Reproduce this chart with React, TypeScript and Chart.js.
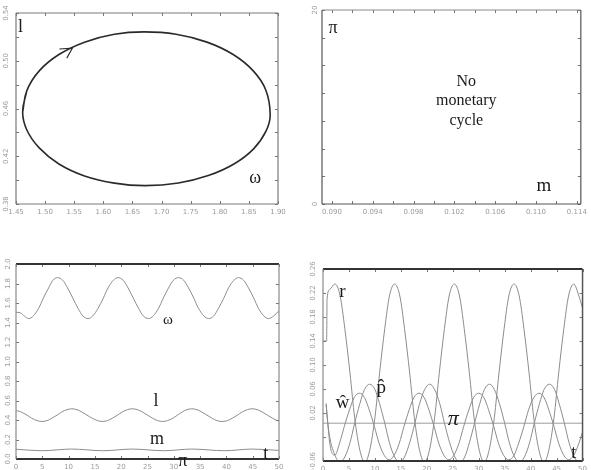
import React, { useEffect, useRef } from "react";
import { Chart, registerables } from "chart.js";
Chart.register(...registerables);

// ---------------- Panel 1: limit cycle in the (omega, l) plane ----------------
const cycleOmega = [1.4614, 1.4686, 1.4899, 1.5237, 1.5677, 1.619, 1.67, 1.725, 1.778, 1.823, 1.8575, 1.879, 1.8866, 1.8794, 1.8581, 1.8243, 1.7803, 1.729, 1.672, 1.619, 1.5677, 1.5237, 1.4899, 1.4686];
const cycleL = [0.457, 0.475, 0.4915, 0.5052, 0.5156, 0.5222, 0.5242, 0.5222, 0.5156, 0.5052, 0.4915, 0.4755, 0.4545, 0.441, 0.4262, 0.4135, 0.4038, 0.3976, 0.3954, 0.3975, 0.4035, 0.4135, 0.427, 0.442];
const arrowOmega = [1.5245, 1.5469, 1.5372];
const arrowL = [0.5098, 0.5106, 0.5022];

// ---------------- Panel 2: axis ticks only ----------------
const p2XTicks = [0.09, 0.092, 0.094, 0.096, 0.098, 0.1, 0.102, 0.104, 0.106, 0.108, 0.11, 0.112, 0.114];
const p2XLabelled = [0.09, 0.094, 0.098, 0.102, 0.106, 0.11, 0.114];

// ---------------- Panel 3: time series omega, l, m, pi ----------------
const omegaT = [0, 0.8, 1.6, 2.4, 3.3, 4.3, 5.2, 6.2, 7.0, 7.9, 8.9, 9.8, 10.8, 11.8, 12.7, 13.7, 14.6, 15.6, 16.6, 17.5, 18.5, 19.4, 20.4, 21.3, 22.3, 23.3, 24.2, 25.2, 26.1, 27.1, 28.0, 29.0, 29.9, 30.9, 31.9, 32.8, 33.8, 34.7, 35.7, 36.6, 37.6, 38.5, 39.5, 40.4, 41.4, 42.3, 43.3, 44.2, 45.2, 46.1, 47.1, 48.0, 49.0, 50];
const omegaV = [1.505, 1.5, 1.465, 1.44, 1.468, 1.545, 1.65, 1.755, 1.832, 1.86, 1.832, 1.755, 1.65, 1.545, 1.468, 1.44, 1.468, 1.545, 1.65, 1.755, 1.832, 1.86, 1.832, 1.755, 1.65, 1.545, 1.468, 1.44, 1.468, 1.545, 1.65, 1.755, 1.832, 1.86, 1.832, 1.755, 1.65, 1.545, 1.468, 1.44, 1.468, 1.545, 1.65, 1.755, 1.832, 1.86, 1.832, 1.755, 1.65, 1.545, 1.468, 1.44, 1.468, 1.52];
const lT = [0, 0.6, 1.2, 2.1, 3.0, 4.0, 4.9, 5.9, 6.8, 7.8, 8.7, 9.7, 10.6, 11.6, 12.5, 13.5, 14.5, 15.5, 16.4, 17.4, 18.3, 19.3, 20.2, 21.2, 22.1, 23.1, 24.0, 25.0, 26.0, 26.9, 27.9, 28.8, 29.8, 30.7, 31.6, 32.5, 33.4, 34.4, 35.3, 36.3, 37.3, 38.2, 39.2, 40.2, 41.1, 42.1, 43.0, 44.0, 44.9, 45.9, 46.8, 47.8, 48.8, 49.7, 50];
const lV = [0.495, 0.49, 0.477, 0.45, 0.4175, 0.394, 0.385, 0.394, 0.4175, 0.45, 0.4825, 0.506, 0.515, 0.506, 0.4825, 0.45, 0.4175, 0.394, 0.385, 0.394, 0.4175, 0.45, 0.4825, 0.506, 0.515, 0.506, 0.4825, 0.45, 0.4175, 0.394, 0.385, 0.394, 0.4175, 0.45, 0.4825, 0.506, 0.515, 0.506, 0.4825, 0.45, 0.4175, 0.394, 0.385, 0.394, 0.4175, 0.45, 0.4825, 0.506, 0.515, 0.506, 0.4825, 0.45, 0.4175, 0.394, 0.39];
const mT = [0, 4.9, 10.6, 16.5, 22.1, 28.1, 33.4, 39.7, 44.9, 50];
const mV = [0.1, 0.085, 0.102, 0.085, 0.102, 0.085, 0.102, 0.085, 0.102, 0.088];
const piLeftT = [0, 50];
const piLeftV = [0.004, 0.004];

// ---------------- Panel 4: time series r, w-hat, p-hat, pi ----------------
const rT = [0, 0.7, 0.78, 1.3, 2.3, 3.3, 4.2, 5.2, 6.1, 7.1, 8.05, 9.0, 10.0, 10.9, 11.9, 12.8, 13.8, 14.8, 15.7, 16.7, 17.6, 18.6, 19.55, 20.5, 21.5, 22.4, 23.4, 24.3, 25.3, 26.3, 27.2, 28.2, 29.1, 30.1, 31.05, 32.0, 33.0, 33.9, 34.9, 35.8, 36.8, 37.8, 38.7, 39.7, 40.6, 41.6, 42.55, 43.5, 44.5, 45.4, 46.4, 47.3, 48.3, 49.3, 50];
const rV = [0.14, 0.14, 0.21, 0.226, 0.235, 0.215, 0.161, 0.0865, 0.012, -0.042, -0.062, -0.042, 0.012, 0.0865, 0.161, 0.215, 0.235, 0.215, 0.161, 0.0865, 0.012, -0.042, -0.062, -0.042, 0.012, 0.0865, 0.161, 0.215, 0.235, 0.215, 0.161, 0.0865, 0.012, -0.042, -0.062, -0.042, 0.012, 0.0865, 0.161, 0.215, 0.235, 0.215, 0.161, 0.0865, 0.012, -0.042, -0.062, -0.042, 0.012, 0.0865, 0.161, 0.215, 0.235, 0.215, 0.195];
const wT = [0.6, 0.9, 1.3, 1.8, 2.3, 3.2, 4.1, 5.1, 6.0, 7.0, 8.0, 8.9, 9.9, 10.8, 11.8, 12.75, 13.7, 14.7, 15.6, 16.6, 17.5, 18.5, 19.5, 20.4, 21.4, 22.3, 23.3, 24.25, 25.2, 26.2, 27.1, 28.1, 29.0, 30.0, 31.0, 31.9, 32.9, 33.8, 34.8, 35.8, 36.8, 37.7, 38.7, 39.6, 40.6, 41.6, 42.6, 43.5, 44.5, 45.4, 46.4, 47.35, 48.3, 49.3, 50];
const wV = [0.036, 0.005, -0.03, -0.048, -0.05, -0.03, -0.0025, 0.0253, 0.0456, 0.053, 0.0456, 0.0253, -0.0025, -0.0303, -0.0506, -0.058, -0.0506, -0.0303, -0.0025, 0.0253, 0.0456, 0.053, 0.0456, 0.0253, -0.0025, -0.0303, -0.0506, -0.058, -0.0506, -0.0303, -0.0025, 0.0253, 0.0456, 0.053, 0.0456, 0.0253, -0.0025, -0.0303, -0.0506, -0.058, -0.0506, -0.0303, -0.0025, 0.0253, 0.0456, 0.053, 0.0456, 0.0253, -0.0025, -0.0303, -0.0506, -0.058, -0.0506, -0.0303, -0.012];
const pT = [0.6, 0.9, 1.4, 2.2, 3.2, 4.2, 5.2, 6.1, 7.1, 8.0, 9.0, 10.0, 10.9, 11.9, 12.8, 13.8, 14.8, 15.7, 16.7, 17.7, 18.6, 19.6, 20.55, 21.5, 22.5, 23.4, 24.4, 25.4, 26.3, 27.3, 28.2, 29.2, 30.2, 31.1, 32.1, 33.0, 34.0, 35.0, 35.9, 36.9, 37.85, 38.8, 39.8, 40.7, 41.7, 42.6, 43.6, 44.6, 45.5, 46.5, 47.4, 48.4, 49.4, 50];
const pV = [0.034, 0.005, -0.025, -0.048, -0.062, -0.0533, -0.0295, 0.003, 0.0355, 0.0593, 0.068, 0.0593, 0.0355, 0.003, -0.0295, -0.0533, -0.062, -0.0533, -0.0295, 0.003, 0.0355, 0.0593, 0.068, 0.0593, 0.0355, 0.003, -0.0295, -0.0533, -0.062, -0.0533, -0.0295, 0.003, 0.0355, 0.0593, 0.068, 0.0593, 0.0355, 0.003, -0.0295, -0.0533, -0.062, -0.0533, -0.0295, 0.003, 0.0355, 0.0593, 0.068, 0.0593, 0.0355, 0.003, -0.0295, -0.0533, -0.062, -0.058];
const piRightT = [0, 50];
const piRightV = [0.003, 0.003];

// ---------------- helpers ----------------
const pts = (xs: number[], ys: number[]) => xs.map((x, i) => ({ x, y: ys[i] }));
const TICK_FONT = { family: "'DejaVu Sans', sans-serif", size: 7 };
const TICK_COLOR = "#9a9a9a";

type Lbl = { text: string; x: number; y: number; size: number; italic?: boolean };
type Side = { w: number; c: string };
type Frame = { top: Side; bottom: Side; left: Side; right: Side; tick: number };

function framePlugin(f: Frame) {
  return {
    id: "frame",
    afterDatasetsDraw(chart: any) {
      const { ctx, chartArea: a, scales } = chart;
      const xs = scales.x, ys = scales.y;
      ctx.save();
      ctx.strokeStyle = "#777";
      ctx.lineWidth = 1;
      ctx.beginPath();
      for (const t of xs.ticks) {
        const p = Math.round(xs.getPixelForValue(t.value)) + 0.5;
        ctx.moveTo(p, a.bottom); ctx.lineTo(p, a.bottom - f.tick);
        ctx.moveTo(p, a.top); ctx.lineTo(p, a.top + f.tick);
      }
      for (const t of ys.ticks) {
        const p = Math.round(ys.getPixelForValue(t.value)) + 0.5;
        ctx.moveTo(a.left, p); ctx.lineTo(a.left + f.tick, p);
        ctx.moveTo(a.right, p); ctx.lineTo(a.right - f.tick, p);
      }
      ctx.stroke();
      const line = (s: Side, x1: number, y1: number, x2: number, y2: number) => {
        ctx.beginPath(); ctx.strokeStyle = s.c; ctx.lineWidth = s.w;
        ctx.moveTo(x1, y1); ctx.lineTo(x2, y2); ctx.stroke();
      };
      line(f.top, a.left, a.top, a.right, a.top);
      line(f.bottom, a.left, a.bottom, a.right, a.bottom);
      line(f.left, a.left, a.top, a.left, a.bottom);
      line(f.right, a.right, a.top, a.right, a.bottom);
      ctx.restore();
    },
  };
}

function textPlugin(labels: Lbl[]) {
  return {
    id: "texts",
    afterDraw(chart: any) {
      const { ctx, scales } = chart;
      ctx.save();
      ctx.fillStyle = "#1a1a1a";
      ctx.textAlign = "center";
      ctx.textBaseline = "middle";
      for (const l of labels) {
        ctx.font = `${l.italic ? "italic " : ""}${l.size}px 'Liberation Serif', 'DejaVu Serif', serif`;
        ctx.fillText(l.text, scales.x.getPixelForValue(l.x), scales.y.getPixelForValue(l.y));
      }
      ctx.restore();
    },
  };
}

type Spec = {
  left: number; top: number; w: number; h: number;
  area: { left: number; top: number; right: number; bottom: number };
  datasets: any[];
  x: any; y: any;
  frame: Frame;
  labels: Lbl[];
  yPad: number;
};

function buildConfig(s: Spec): any {
  return {
    type: "line",
    data: { datasets: s.datasets },
    options: {
      responsive: false,
      animation: false,
      events: [],
      layout: { padding: { left: 0, top: s.area.top, right: s.w - s.area.right, bottom: 0 } },
      plugins: { legend: { display: false }, tooltip: { enabled: false } },
      elements: { point: { radius: 0 } },
      scales: {
        x: {
          type: "linear",
          ...s.x.range,
          afterFit: (sc: any) => { sc.height = s.h - s.area.bottom; },
          grid: { display: false, drawTicks: false },
          border: { display: false },
          ticks: {
            ...s.x.ticks,
            autoSkip: false, minRotation: 0, maxRotation: 0,
            padding: 4, font: TICK_FONT, color: TICK_COLOR,
          },
        },
        y: {
          type: "linear",
          ...s.y.range,
          afterFit: (sc: any) => { sc.width = s.area.left; },
          grid: { display: false, drawTicks: false },
          border: { display: false },
          ticks: {
            ...s.y.ticks,
            autoSkip: false, minRotation: 90, maxRotation: 90, crossAlign: "center",
            padding: s.yPad, font: TICK_FONT, color: TICK_COLOR,
          },
        },
      },
    },
    plugins: [framePlugin(s.frame), textPlugin(s.labels)],
  };
}

function Panel({ spec }: { spec: Spec }) {
  const ref = useRef<HTMLCanvasElement>(null);
  useEffect(() => {
    const chart = new Chart(ref.current as HTMLCanvasElement, buildConfig(spec));
    return () => chart.destroy();
  }, []);
  return (
    <div style={{ position: "absolute", left: spec.left, top: spec.top, width: spec.w, height: spec.h }}>
      <canvas ref={ref} width={spec.w} height={spec.h} style={{ width: spec.w, height: spec.h, display: "block" }} />
    </div>
  );
}

const grayLine = (data: any[], color = "#8c8c8c") => ({
  data, borderColor: color, borderWidth: 1, pointRadius: 0, fill: false, cubicInterpolationMode: "monotone",
});

const every = (step: number, base: number, digits: number) => (v: number) =>
  Math.round((v - base) / step) % 2 === 0 ? v.toFixed(digits) : "";

const thin = (c = "#7a7a7a", w = 1.2): Side => ({ w, c });

const panel1: Spec = {
  left: 0, top: 0, w: 295, h: 225,
  area: { left: 16, top: 13, right: 278, bottom: 204 },
  datasets: [
    {
      data: pts([...cycleOmega, cycleOmega[0], cycleOmega[1]], [...cycleL, cycleL[0], cycleL[1]]),
      borderColor: "#2a2a2a", borderWidth: 1.6, pointRadius: 0, tension: 0.4, fill: false,
    },
    { data: pts(arrowOmega, arrowL), borderColor: "#2a2a2a", borderWidth: 1.1, pointRadius: 0, tension: 0, fill: false },
  ],
  x: { range: { min: 1.45, max: 1.9 }, ticks: { stepSize: 0.05, callback: (v: number) => v.toFixed(2) } },
  y: { range: { min: 0.38, max: 0.54 }, ticks: { stepSize: 0.02, callback: every(0.02, 0.38, 2) } },
  frame: { top: thin(), bottom: thin(), left: thin(), right: thin(), tick: 3 },
  labels: [
    { text: "l", x: 1.4577, y: 0.5277, size: 18 },
    { text: "ω", x: 1.861, y: 0.4017, size: 18 },
  ],
  yPad: 2,
};

const panel2: Spec = {
  left: 295, top: 0, w: 296, h: 225,
  area: { left: 27, top: 10, right: 287, bottom: 204 },
  datasets: [],
  x: {
    range: {
      min: 0.08903, max: 0.11439,
      afterBuildTicks: (sc: any) => { sc.ticks = p2XTicks.map((value) => ({ value })); },
    },
    ticks: { callback: (v: number) => (p2XLabelled.some((t) => Math.abs(t - v) < 1e-7) ? v.toFixed(3) : "") },
  },
  y: { range: { min: 0, max: 20 }, ticks: { count: 8, callback: (v: number) => (v === 0 || v === 20 ? String(v) : "") } },
  frame: { top: thin("#8a8a8a"), bottom: thin("#555"), left: thin("#555"), right: thin("#555"), tick: 3 },
  labels: [
    { text: "π", x: 0.0901, y: 18.1, size: 18 },
    { text: "m", x: 0.11078, y: 1.9, size: 19 },
    { text: "No", x: 0.10317, y: 12.6, size: 16 },
    { text: "monetary", x: 0.10317, y: 10.6, size: 16 },
    { text: "cycle", x: 0.10317, y: 8.6, size: 16 },
  ],
  yPad: 2,
};

const panel3: Spec = {
  left: 0, top: 235, w: 295, h: 235,
  area: { left: 16, top: 29, right: 279, bottom: 224 },
  datasets: [
    grayLine(pts(omegaT, omegaV)),
    grayLine(pts(lT, lV)),
    grayLine(pts(mT, mV)),
    grayLine(pts(piLeftT, piLeftV)),
  ],
  x: { range: { min: 0, max: 50 }, ticks: { stepSize: 5, callback: (v: number) => String(v) } },
  y: { range: { min: 0, max: 2 }, ticks: { stepSize: 0.2, callback: (v: number) => v.toFixed(1) } },
  frame: { top: thin("#333", 2), bottom: thin("#333", 2), left: thin("#8a8a8a"), right: thin("#8a8a8a"), tick: 3 },
  labels: [
    { text: "ω", x: 28.9, y: 1.43, size: 15 },
    { text: "l", x: 26.6, y: 0.59, size: 18 },
    { text: "m", x: 26.8, y: 0.2, size: 18 },
    { text: "π", x: 31.7, y: -0.02, size: 18 },
    { text: "t", x: 47.5, y: 0.05, size: 18 },
  ],
  yPad: 2,
};

const panel4: Spec = {
  left: 295, top: 235, w: 296, h: 235,
  area: { left: 28, top: 34, right: 290, bottom: 226 },
  datasets: [
    grayLine(pts(rT, rV)),
    grayLine(pts(wT, wV)),
    grayLine(pts(pT, pV)),
    grayLine(pts(piRightT, piRightV), "#9c9c9c"),
  ],
  x: { range: { min: 0, max: 50 }, ticks: { stepSize: 5, callback: (v: number) => String(v) } },
  y: {
    range: { min: -0.06, max: 0.26 },
    ticks: { stepSize: 0.04, callback: (v: number) => (Math.abs(v + 0.02) < 1e-6 ? "" : v.toFixed(2)) },
  },
  frame: { top: thin("#333", 2), bottom: thin("#333", 2), left: thin("#8a8a8a"), right: thin("#555", 1.5), tick: 3 },
  labels: [
    { text: "r", x: 3.76, y: 0.222, size: 19 },
    { text: "ŵ", x: 3.76, y: 0.036, size: 19 },
    { text: "p\u0302", x: 11.2, y: 0.062, size: 19 },
    { text: "π", x: 25.07, y: 0.009, size: 22, italic: true },
    { text: "t", x: 48.3, y: -0.047, size: 18 },
  ],
  yPad: 1,
};

export default function App() {
  return (
    <div style={{ position: "absolute", left: 0, top: 0, width: 591, height: 470, background: "#fff", overflow: "hidden" }}>
      <Panel spec={panel1} />
      <Panel spec={panel2} />
      <Panel spec={panel3} />
      <Panel spec={panel4} />
    </div>
  );
}
